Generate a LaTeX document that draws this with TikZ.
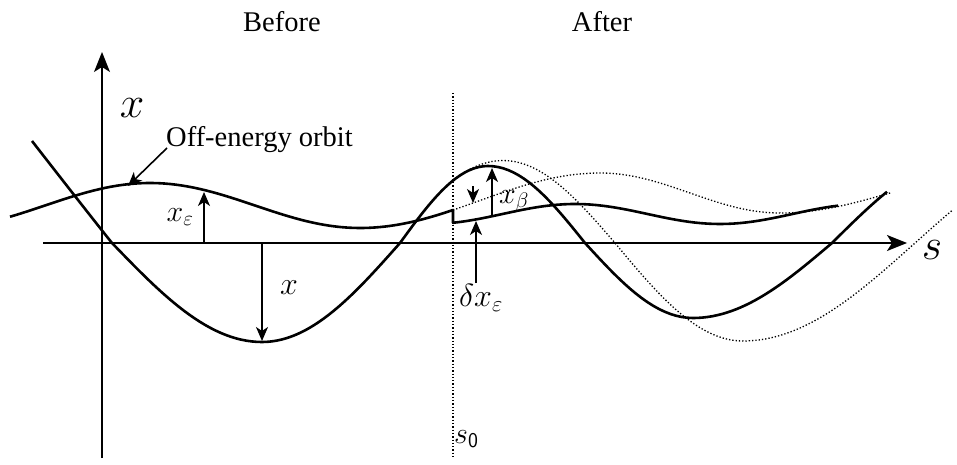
\RequirePackage{fix-cm}
\documentclass[tikz,border=0pt]{standalone}
\usepackage{fontspec}
\setmainfont{Liberation Serif}
\usetikzlibrary{arrows.meta}
\begin{document}
\begin{tikzpicture}[x=1pt,y=-1pt,
  axis/.style={line width=1.6pt,-{Stealth[length=20pt,width=16pt,inset=5pt]}},
  orbit/.style={line width=2.6pt},
  dots/.style={line width=1.3pt,dash pattern=on 1.3pt off 2pt},
  marker/.style={line width=1.6pt,-{Stealth[length=14pt,width=12pt,inset=4pt]}},
  word/.style={inner sep=0pt,font=\fontsize{28.5}{31}\selectfont},
  bigm/.style={inner sep=0pt,font=\fontsize{44}{46}\selectfont},
  midm/.style={inner sep=0pt,font=\fontsize{32}{34}\selectfont},
  smallm/.style={inner sep=0pt,font=\fontsize{30}{32}\selectfont},
  ]
\useasboundingbox (0,0) rectangle (957,465);
% axes
\coordinate (hs) at (43,243); \coordinate (he) at (907,243);
\coordinate (vs) at (102,458); \coordinate (ve) at (102,52);
\draw[axis] (hs) -- (he);
\draw[axis] (vs) -- (ve);
% dotted s0 line
\coordinate (s0top) at (453,93); \coordinate (s0bot) at (453,458);
\draw[dots] (s0top) -- (s0bot);
% labels
\node[word] (before) at (282,22) {Before};
\node[word] (after) at (602,22) {After};
\node[bigm] (xlab) at (132,108) {$x$};
\node[bigm] (slab) at (932,250) {$s$};
\node[word,anchor=base west] (offlab) at (166,147) {Off-energy orbit};
\node[smallm] (xelab) at (180,217) {$x_\varepsilon$};
\node[midm] (xlab2) at (289,288) {$x$};
\node[smallm] (xblab) at (514,201) {$x_\beta$};
\node[midm] (dxlab) at (481,298) {$\delta x_\varepsilon$};
\node[smallm,anchor=west] (s0lab) at (454,439) {$s_{\mathsf{0}}$};
% betatron orbit (before)
\draw[orbit] (32,141) .. controls (60,177) and (92,218) .. (112,243)
 -- plot[domain=112:262,samples=30] (\x,{243+99*sin((\x-112)/150*90)})
 -- plot[domain=262:400,samples=30] (\x,{243+99*cos((\x-262)/138*90)})
 -- plot[domain=400:488,samples=20] (\x,{243-77*sin((\x-400)/88*90)})
 -- plot[domain=488:585,samples=20] (\x,{243-77*cos((\x-488)/97*90)})
 -- plot[domain=585:693,samples=20] (\x,{243+75*sin((\x-585)/108*90)})
 -- plot[domain=693:832,samples=30] (\x,{243+75*cos((\x-693)/139*90)})
 -- plot[domain=832:887,samples=12] (\x,{243-88*sin((\x-832)/139*90)});
% off-energy orbit with jump
\draw[orbit,line join=round] plot[domain=10:360,samples=60] (\x,{205.5-22.5*cos((\x-150)/210*180)})
 -- plot[domain=360:453,samples=20] (\x,{200.5+27.5*cos((\x-360)/240*180)})
 -- plot[domain=453:838,samples=60] (\x,{214-10*cos((\x-575)/145*180)});
% dotted continuation of old off-energy orbit
\draw[dots] plot[domain=453:600,samples=30] (\x,{200.5+27.5*cos((\x-360)/240*180)})
 -- plot[domain=600:780,samples=30] (\x,{193-20*cos((\x-600)/180*180)})
 -- plot[domain=780:892,samples=20] (\x,{193+20*cos((\x-780)/220*180)});
% dotted new betatron orbit
\draw[dots] plot[domain=453:615,samples=30] (\x,{243-82.5*cos((\x-503)/112*90)})
 -- plot[domain=615:743,samples=30] (\x,{243+98*sin((\x-615)/128*90)})
 -- plot[domain=743:953,samples=40] (\x,{243+98*cos((\x-743)/172*90)});
% marker arrows
\coordinate (xe0) at (204,243); \coordinate (xe1) at (204,192);
\draw[marker] (xe0) -- (xe1);
\coordinate (xd0) at (262,243); \coordinate (xd1) at (262,341);
\draw[marker] (xd0) -- (xd1);
\coordinate (xb0) at (492,216); \coordinate (xb1) at (492,168);
\draw[marker] (xb0) -- (xb1);
\coordinate (sm0) at (473,186); \coordinate (sm1) at (473,203);
\draw[marker] (sm0) -- (sm1);
\coordinate (dx0) at (476,283); \coordinate (dx1) at (476,221);
\draw[marker] (dx0) -- (dx1);
\coordinate (of0) at (167,148); \coordinate (of1) at (128,186);
\draw[marker] (of0) -- (of1);
\end{tikzpicture}
\end{document}
